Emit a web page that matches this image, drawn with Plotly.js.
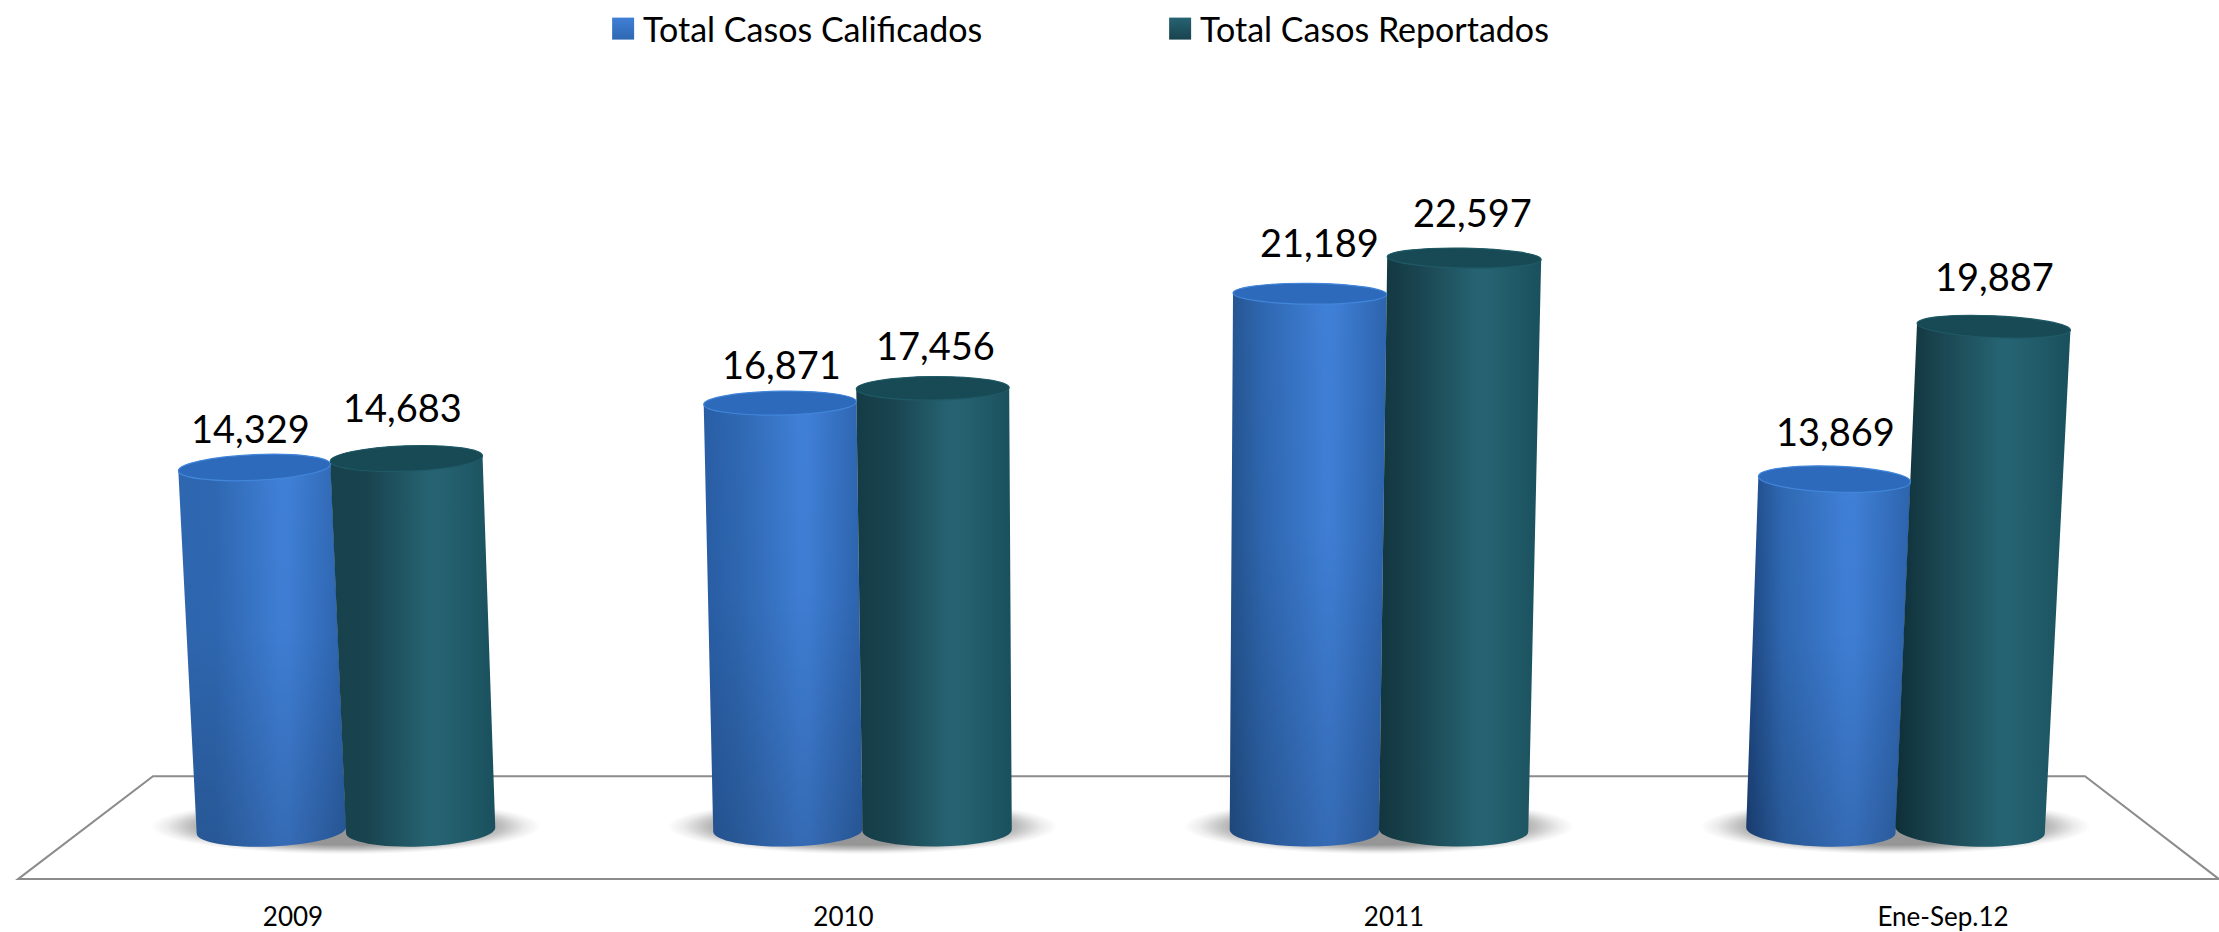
<!DOCTYPE html>
<html><head><meta charset="utf-8">
<script src="https://cdn.plot.ly/plotly-3.0.1.min.js"></script>
<style>html,body{margin:0;padding:0;background:#fff}#chart{width:2219px;height:932px}</style>
</head><body><div id="chart"></div>
<script>
const categories = ["2009", "2010", "2011", "Ene-Sep.12"];
const seriesNames = ["Total Casos Calificados", "Total Casos Reportados"];
const calificados = [14329, 16871, 21189, 13869];
const reportados = [14683, 17456, 22597, 19887];

const W = 2219, H = 932, AXIS_Y = 895, ZERO_Y = 830, PX_PER_UNIT = 0.0255;
const GROUP_PX = 516.5, ZERO_X = 346, LEAN = 5.5e-5, VANISH = 1.495;
const xIdx = px => (px - ZERO_X) / GROUP_PX;
const yVal = px => (ZERO_Y - px) / PX_PER_UNIT;
const xPaper = px => px / W, yPaper = px => 1 - px / AXIS_Y;
const idx = categories.map((_, i) => i);
const BAR = 0.289;

function leanX(c, v) { return c + (c - VANISH) * LEAN * v * PX_PER_UNIT; }

const labelLift = [[40, 39, 52, 48], [52, 43, 46, 51]];
const labelNudge = [[-4, 1, 10, 1], [-4, 3, 8, 1]];
const annotations = [];
[[calificados, -BAR / 2], [reportados, BAR / 2]].forEach(([vals, off], t) => {
  vals.forEach((v, i) => annotations.push({
    x: leanX(i + off, v), y: v, yshift: labelLift[t][i], xshift: labelNudge[t][i],
    yanchor: 'middle', xanchor: 'center', showarrow: false,
    text: v.toLocaleString('en-US'), font: { family: 'Lato', size: 38, color: '#000' }
  }));
});

const shapes = [{
  type: 'path', layer: 'below', xref: 'paper', yref: 'paper',
  path: `M${xPaper(18)},${yPaper(879)}L${xPaper(153)},${yPaper(775.5)}L${xPaper(2085)},${yPaper(775.5)}L${xPaper(2219)},${yPaper(879)}Z`,
  line: { color: '#8c8c8c', width: 2 }, fillcolor: 'rgba(255,255,255,0)'
}];
idx.forEach(i => {
  const rx = 195 / GROUP_PX, ry = 28 / PX_PER_UNIT, cy = yVal(826);
  shapes.push({
    type: 'circle', layer: 'below', xref: 'x', yref: 'y', name: 'shadow',
    x0: i - rx, x1: i + rx, y0: cy - ry, y1: cy + ry,
    fillcolor: '#999999', line: { width: 0 }
  });
});

const traces = [
  { type: 'bar', name: seriesNames[0], x: idx, y: calificados, marker: { color: '#3a78c8' }, hoverinfo: 'skip' },
  { type: 'bar', name: seriesNames[1], x: idx, y: reportados, marker: { color: '#215b66' }, hoverinfo: 'skip' }
];

const layout = {
  width: W, height: H, autosize: false, barmode: 'group', bargap: 1 - 2 * BAR, bargroupgap: 0,
  margin: { l: 0, r: 0, t: 0, b: H - AXIS_Y, pad: 0 },
  paper_bgcolor: '#fff', plot_bgcolor: 'rgba(0,0,0,0)',
  xaxis: {
    type: 'linear', range: [xIdx(0), xIdx(W)], showgrid: false, zeroline: false, showline: false, ticks: '',
    tickmode: 'array', tickvals: [xIdx(293), xIdx(843.5), xIdx(1394), xIdx(1943)], ticktext: categories,
    ticklabelstandoff: 4, tickfont: { family: 'Lato', size: 26, color: '#000' }
  },
  yaxis: { range: [yVal(AXIS_Y), yVal(0)], visible: false, showgrid: false, zeroline: false },
  legend: {
    orientation: 'h', x: 0.2718, y: 1.007, xanchor: 'left', yanchor: 'top', entrywidth: 512, entrywidthmode: 'pixels',
    itemwidth: 30, font: { family: 'Lato', size: 34, color: '#000' }, bgcolor: 'rgba(0,0,0,0)', traceorder: 'normal'
  },
  annotations, shapes, showlegend: true
};

const NS = 'http://www.w3.org/2000/svg';
function el(n, a, p) { const e = document.createElementNS(NS, n); for (const k in a) e.setAttribute(k, a[k]); if (p) p.appendChild(e); return e; }
const shades = [
  { left: '#2f68b2', mid: '#3f7fd6', right: '#2d64ae', cap: '#2e6abb', rim: '#4286da' },
  { left: '#19434e', mid: '#266372', right: '#1a505d', cap: '#174a55', rim: '#1f5a66' }
];
const darkLeft = [
  ['#2e67b0', '#17424c'], ['#295ea6', '#143c46'], ['#24548f', '#12363f'], ['#1d4680', '#0e2f37']
];

Plotly.newPlot('chart', traces, layout, { staticPlot: true, displayModeBar: false }).then(gd => {
  const svg = gd.querySelector('svg.main-svg');
  const defs = el('defs', {}, svg);
  const capLayer = el('g', { class: 'cylinder-caps' });
  const barlayer = gd.querySelector('.barlayer');
  const xa = gd._fullLayout.xaxis, vx = xa._length / (xa.range[1] - xa.range[0]);
  const vanishPx = (VANISH - xa.range[0]) * vx;

  const shade = el('linearGradient', { id: 'cylShade', x1: '0', x2: '0', y1: '0', y2: '1' }, defs);
  [[0, 0], [0.45, 0.02], [1, 0.16]].forEach(([o, a]) => el('stop', { offset: o, 'stop-color': '#000', 'stop-opacity': a }, shade));

  const sh = el('radialGradient', { id: 'floorShadow', cx: '0.5', cy: '0.5', r: '0.5' }, defs);
  [[0, 0.9], [0.66, 0.9], [0.8, 0.55], [0.92, 0.16], [1, 0]].forEach(([o, a]) => el('stop', { offset: o, 'stop-color': '#8a8a8a', 'stop-opacity': a }, sh));
  gd.querySelectorAll('.shapelayer path').forEach(p => {
    if (getComputedStyle(p).fill.replace(/\s/g, '') === 'rgb(153,153,153)') { p.style.fill = 'url(#floorShadow)'; p.style.fillOpacity = 1; }
  });

  gd.querySelectorAll('.barlayer .trace.bars').forEach((tr, t) => {
    tr.querySelectorAll('.point path').forEach((path, i) => {
      const m = path.getAttribute('d').match(/M([\d.\-]+),([\d.\-]+)V([\d.\-]+)H([\d.\-]+)/);
      if (!m) return;
      const x0 = +m[1], y0 = +m[2], y1 = +m[3], x1 = +m[4], h = y0 - y1;
      const c = shades[t], id = `cyl${t}${i}`;
      const g = el('linearGradient', { id, x1: '0', x2: '1', y1: '0', y2: '0' }, defs);
      [[0, darkLeft[i][t]], [0.22, c.left], [0.6, c.mid], [0.66, c.mid], [1, c.right]].forEach(([o, col]) => el('stop', { offset: o, 'stop-color': col }, g));
      const s = 1 + LEAN * h;
      const tx0 = vanishPx + (x0 - vanishPx) * s, tx1 = vanishPx + (x1 - vanishPx) * s;
      const rb = (x1 - x0) / 2, rt = (tx1 - tx0) / 2, ryB = 16;
      const ryT = Math.max(10, 13 - (h - 350) * 3 / 220);
      const ang = 0.003 * ((x0 + x1) / 2 - vanishPx), dy = Math.tan(ang * Math.PI / 180);
      const d = `M${x0},${y0 - rb * dy}L${tx0},${y1 - rt * dy}` +
        `A${rt},${ryT} ${ang} 0 1 ${tx1},${y1 + rt * dy}` +
        `L${x1},${y0 + rb * dy}A${rb},${ryB} ${ang} 0 1 ${x0},${y0 - rb * dy}Z`;
      path.setAttribute('d', d);
      path.style.fill = `url(#${id})`;
      path.style.stroke = 'none';
      if (t === 0) {
        const over = path.cloneNode(false);
        over.style.fill = 'url(#cylShade)';
        path.parentNode.appendChild(over);
      }
      el('ellipse', {
        cx: (tx0 + tx1) / 2, cy: y1, rx: rt, ry: ryT,
        transform: `rotate(${ang} ${(tx0 + tx1) / 2} ${y1})`,
        fill: c.cap, stroke: c.rim, 'stroke-width': 1.2
      }, capLayer);
    });
  });
  barlayer.appendChild(capLayer);
  gd.querySelectorAll('.legend .traces').forEach((tr, t) => {
    const p = tr.querySelector('.legendbar path, .legendpoints path');
    if (!p) return;
    const id = `leg${t}`;
    const g = el('linearGradient', { id, x1: '0', x2: '0', y1: '0', y2: '1' }, defs);
    [[0, shades[t].mid], [1, shades[t].left]].forEach(([o, col]) => el('stop', { offset: o, 'stop-color': col }, g));
    p.setAttribute('d', 'M11,11H-11V-11H11Z');
    p.style.fill = `url(#${id})`;
  });
});
</script></body></html>
